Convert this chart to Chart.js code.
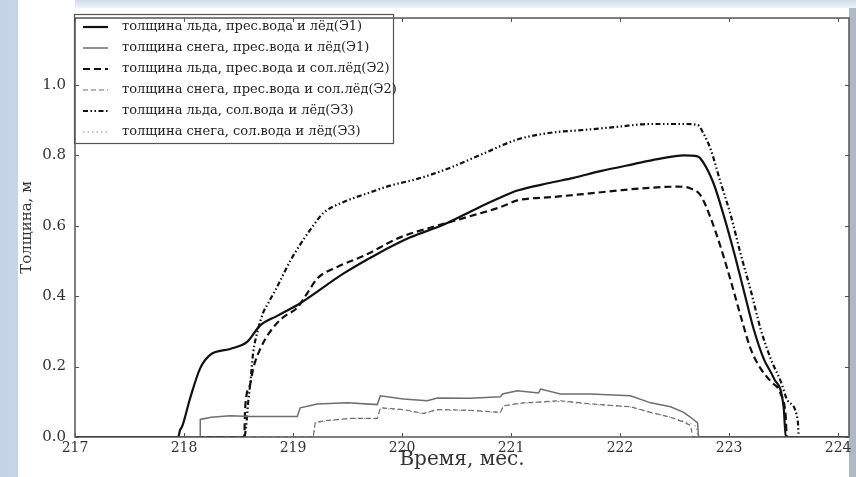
<!DOCTYPE html>
<html>
<head>
<meta charset="utf-8">
<script src="https://cdn.jsdelivr.net/npm/chart.js@4.4.0/dist/chart.umd.min.js"></script>
<style>
  html, body { margin: 0; padding: 0; }
  body {
    width: 856px; height: 477px; overflow: hidden; position: relative;
    background: linear-gradient(90deg, #c4d4e6 0%, #d2deec 50%, #aeb9c6 100%);
  }
  #panel { position: absolute; left: 18px; top: 0; width: 831px; height: 477px; background: #fff; }
  #topstrip { position: absolute; left: 75px; top: 0; width: 781px; height: 8px;
    background: linear-gradient(180deg, #d0dcea, #eef3f8); }
  #wrap { position: absolute; left: 0; top: 0; width: 856px; height: 477px; }
</style>
</head>
<body>
<div id="panel"></div>
<div id="topstrip"></div>
<div id="wrap"><canvas id="graf" width="856" height="477"></canvas></div>
<script>
// подписи осей
var xTicks = [217, 218, 219, 220, 221, 222, 223, 224];
var yTicks = [0, 0.2, 0.4, 0.6, 0.8, 1.0];

var labels = [
  "толщина льда, прес.вода и лёд(Э1)",
  "толщина снега, прес.вода и лёд(Э1)",
  "толщина льда, прес.вода и сол.лёд(Э2)",
  "толщина снега, прес.вода и сол.лёд(Э2)",
  "толщина льда, сол.вода и лёд(Э3)",
  "толщина снега, сол.вода и лёд(Э3)"
];

// Э1 лёд
var iceE1X = [217, 217.946, 217.964, 217.983, 218.056, 218.148, 218.240, 218.423, 218.579, 218.699, 218.855, 219.066,
  219.461, 219.773, 220.076, 220.379, 220.691, 220.903, 221.059, 221.362, 221.573, 221.821, 222.124, 222.344, 222.583,
  222.711, 222.767, 222.858, 222.950, 223.042, 223.134, 223.226, 223.318, 223.410, 223.501, 223.520, 224.1];
var iceE1Y = [0, 0, 0.02, 0.03, 0.11, 0.195, 0.233, 0.25, 0.27, 0.317, 0.344, 0.38,
  0.464, 0.52, 0.567, 0.603, 0.65, 0.68, 0.70, 0.722, 0.736, 0.755, 0.775, 0.789, 0.80,
  0.797, 0.778, 0.72, 0.63, 0.528, 0.417, 0.306, 0.222, 0.167, 0.083, 0, 0];

// Э1 снег
var snowE1X = [217, 218.148, 218.149, 218.249, 218.423, 218.607, 219.039, 219.066, 219.222, 219.498, 219.773, 219.801,
  220.012, 220.232, 220.324, 220.627, 220.903, 220.921, 221.059, 221.252, 221.270, 221.454, 221.729, 222.096,
  222.280, 222.464, 222.583, 222.647, 222.711, 222.720, 224.1];
var snowE1Y = [0, 0, 0.05, 0.056, 0.06, 0.058, 0.058, 0.083, 0.094, 0.097, 0.092, 0.117,
  0.108, 0.103, 0.111, 0.11, 0.114, 0.122, 0.131, 0.125, 0.136, 0.122, 0.122, 0.117,
  0.097, 0.086, 0.07, 0.056, 0.04, 0, 0];

// Э2 лёд
var iceE2X = [217, 218.552, 218.561, 218.607, 218.635, 218.699, 218.791, 218.910, 219.039, 219.130, 219.222, 219.406,
  219.645, 219.984, 220.287, 220.600, 220.903, 221.059, 221.362, 221.665, 221.977, 222.280, 222.528, 222.647,
  222.739, 222.831, 222.923, 223.015, 223.106, 223.198, 223.290, 223.382, 223.474, 223.520, 223.529, 224.1];
var iceE2Y = [0, 0, 0.083, 0.15, 0.195, 0.25, 0.30, 0.34, 0.367, 0.408, 0.45, 0.483,
  0.514, 0.567, 0.597, 0.625, 0.653, 0.672, 0.681, 0.69, 0.70, 0.708, 0.711, 0.706,
  0.686, 0.622, 0.539, 0.444, 0.344, 0.25, 0.194, 0.158, 0.122, 0.056, 0, 0];

// Э2 снег
var snowE2X = [217, 219.185, 219.204, 219.314, 219.525, 219.773, 219.801, 220.012, 220.196, 220.324, 220.627, 220.903,
  220.930, 221.114, 221.454, 221.729, 222.096, 222.280, 222.464, 222.583, 222.647, 222.666, 224.1];
var snowE2Y = [0, 0, 0.042, 0.047, 0.053, 0.053, 0.083, 0.078, 0.067, 0.078, 0.076, 0.07,
  0.089, 0.097, 0.103, 0.094, 0.086, 0.07, 0.056, 0.042, 0.033, 0, 0];

// Э3 лёд
var iceE3X = [217, 218.552, 218.570, 218.589, 218.607, 218.635, 218.680, 218.726, 218.772, 218.855, 218.974, 219.094,
  219.185, 219.277, 219.461, 219.681, 219.893, 220.140, 220.444, 220.747, 221.059, 221.362, 221.665, 221.977,
  222.280, 222.583, 222.712, 222.767, 222.831, 222.923, 223.015, 223.106, 223.198, 223.290, 223.382, 223.474,
  223.538, 223.630, 223.639, 224.1];
var iceE3Y = [0, 0, 0.03, 0.10, 0.15, 0.24, 0.306, 0.353, 0.38, 0.427, 0.50, 0.56,
  0.60, 0.636, 0.667, 0.692, 0.714, 0.733, 0.765, 0.805, 0.845, 0.864, 0.872, 0.881,
  0.889, 0.889, 0.886, 0.861, 0.817, 0.722, 0.63, 0.52, 0.417, 0.306, 0.222, 0.158,
  0.103, 0.047, 0, 0];

// Э3 снег
var snowE3X = [217, 219.185, 219.204, 219.314, 219.525, 219.773, 219.801, 220.012, 220.196, 220.324, 220.627, 220.903,
  220.930, 221.114, 221.454, 221.729, 222.096, 222.280, 222.420, 222.560, 222.640, 222.700, 222.712, 224.1];
var snowE3Y = [0, 0, 0.040, 0.046, 0.052, 0.052, 0.081, 0.077, 0.066, 0.077, 0.075, 0.069,
  0.088, 0.096, 0.101, 0.093, 0.085, 0.069, 0.060, 0.048, 0.040, 0.030, 0, 0];

function pts(xs, ys) {
  return xs.map(function (x, i) { return { x: x, y: ys[i] }; });
}

var FONT = "DejaVu Serif";

// рамка и засечки внутрь, как в matplotlib
var ramka = {
  id: "ramka",
  afterDraw: function (chart) {
    var ctx = chart.ctx, a = chart.chartArea;
    var sx = chart.scales.x, sy = chart.scales.y;
    ctx.save();
    ctx.strokeStyle = "#555";
    ctx.lineWidth = 1.5;
    ctx.strokeRect(a.left, a.top, a.right - a.left, a.bottom - a.top);
    ctx.lineWidth = 1;
    ctx.beginPath();
    xTicks.forEach(function (v) {
      var px = Math.round(sx.getPixelForValue(v)) + 0.5;
      ctx.moveTo(px, a.bottom); ctx.lineTo(px, a.bottom - 4);
      ctx.moveTo(px, a.top); ctx.lineTo(px, a.top + 4);
    });
    yTicks.forEach(function (v) {
      var py = Math.round(sy.getPixelForValue(v)) + 0.5;
      ctx.moveTo(a.left, py); ctx.lineTo(a.left + 4, py);
      ctx.moveTo(a.right, py); ctx.lineTo(a.right - 4, py);
    });
    ctx.stroke();
    ctx.restore();
  }
};

// легенда в рамке в левом верхнем углу
var legenda = {
  id: "legenda",
  afterDatasetsDraw: function (chart) {
    var ctx = chart.ctx;
    ctx.save();
    ctx.fillStyle = "#fff";
    ctx.fillRect(74.5, 14.5, 319, 129);
    ctx.strokeStyle = "#555";
    ctx.lineWidth = 1.2;
    ctx.strokeRect(74.5, 14.5, 319, 129);
    chart.data.datasets.forEach(function (ds, i) {
      var y = 27 + i * 21;
      ctx.beginPath();
      ctx.setLineDash(ds.borderDash || []);
      ctx.strokeStyle = ds.borderColor;
      ctx.lineWidth = ds.borderWidth;
      ctx.moveTo(83, y);
      ctx.lineTo(108, y);
      ctx.stroke();
      ctx.setLineDash([]);
      ctx.fillStyle = "#222";
      ctx.font = "13px '" + FONT + "'";
      ctx.textBaseline = "middle";
      ctx.fillText(ds.label, 122, y);
    });
    ctx.restore();
  }
};

var ctx = document.getElementById("graf").getContext("2d");
var chart = new Chart(ctx, {
  type: "line",
  data: {
    datasets: [
      { label: labels[0], data: pts(iceE1X, iceE1Y), borderColor: "#111", borderWidth: 2.2, cubicInterpolationMode: "monotone" },
      { label: labels[1], data: pts(snowE1X, snowE1Y), borderColor: "#6e6e6e", borderWidth: 1.5 },
      { label: labels[2], data: pts(iceE2X, iceE2Y), borderColor: "#111", borderWidth: 2.2, borderDash: [7, 4], cubicInterpolationMode: "monotone" },
      { label: labels[3], data: pts(snowE2X, snowE2Y), borderColor: "#6e6e6e", borderWidth: 1.2, borderDash: [5, 3] },
      { label: labels[4], data: pts(iceE3X, iceE3Y), borderColor: "#111", borderWidth: 2.2, borderDash: [5, 2.5, 1.5, 2.5, 1.5, 2.5], cubicInterpolationMode: "monotone" },
      { label: labels[5], data: pts(snowE3X, snowE3Y), borderColor: "#8a8a8a", borderWidth: 1, borderDash: [1.5, 3] }
    ]
  },
  options: {
    responsive: false,
    animation: false,
    parsing: true,
    elements: { point: { radius: 0 }, line: { tension: 0 } },
    layout: { padding: { left: 18, right: 7, top: 9, bottom: 0 } },
    plugins: { legend: { display: false }, tooltip: { enabled: false } },
    scales: {
      x: {
        type: "linear",
        min: 217,
        max: 224.1,
        afterBuildTicks: function (s) { s.ticks = xTicks.map(function (v) { return { value: v }; }); },
        afterFit: function (s) { s.height = 40; },
        grid: { display: false, drawTicks: false },
        border: { display: false },
        ticks: {
          padding: 3, color: "#333", maxRotation: 0, autoSkip: false,
          font: { family: FONT, size: 14 },
          callback: function (v) { return String(v); }
        },
        title: {
          display: true, text: "Время, мес.", color: "#333",
          font: { family: FONT, size: 20 },
          padding: { top: 0, bottom: 5 }
        }
      },
      y: {
        min: 0,
        max: 1.19,
        afterBuildTicks: function (s) { s.ticks = yTicks.map(function (v) { return { value: v }; }); },
        afterFit: function (s) { s.width = 57; },
        grid: { display: false, drawTicks: false },
        border: { display: false },
        ticks: {
          padding: 9, color: "#333",
          font: { family: FONT, size: 15 },
          callback: function (v) { return v.toFixed(1); }
        },
        title: {
          display: true, text: "Толщина, м", color: "#333",
          font: { family: FONT, size: 15 },
          padding: { top: 0, bottom: 0 }
        }
      }
    }
  },
  plugins: [legenda, ramka]
});
</script>
</body>
</html>
